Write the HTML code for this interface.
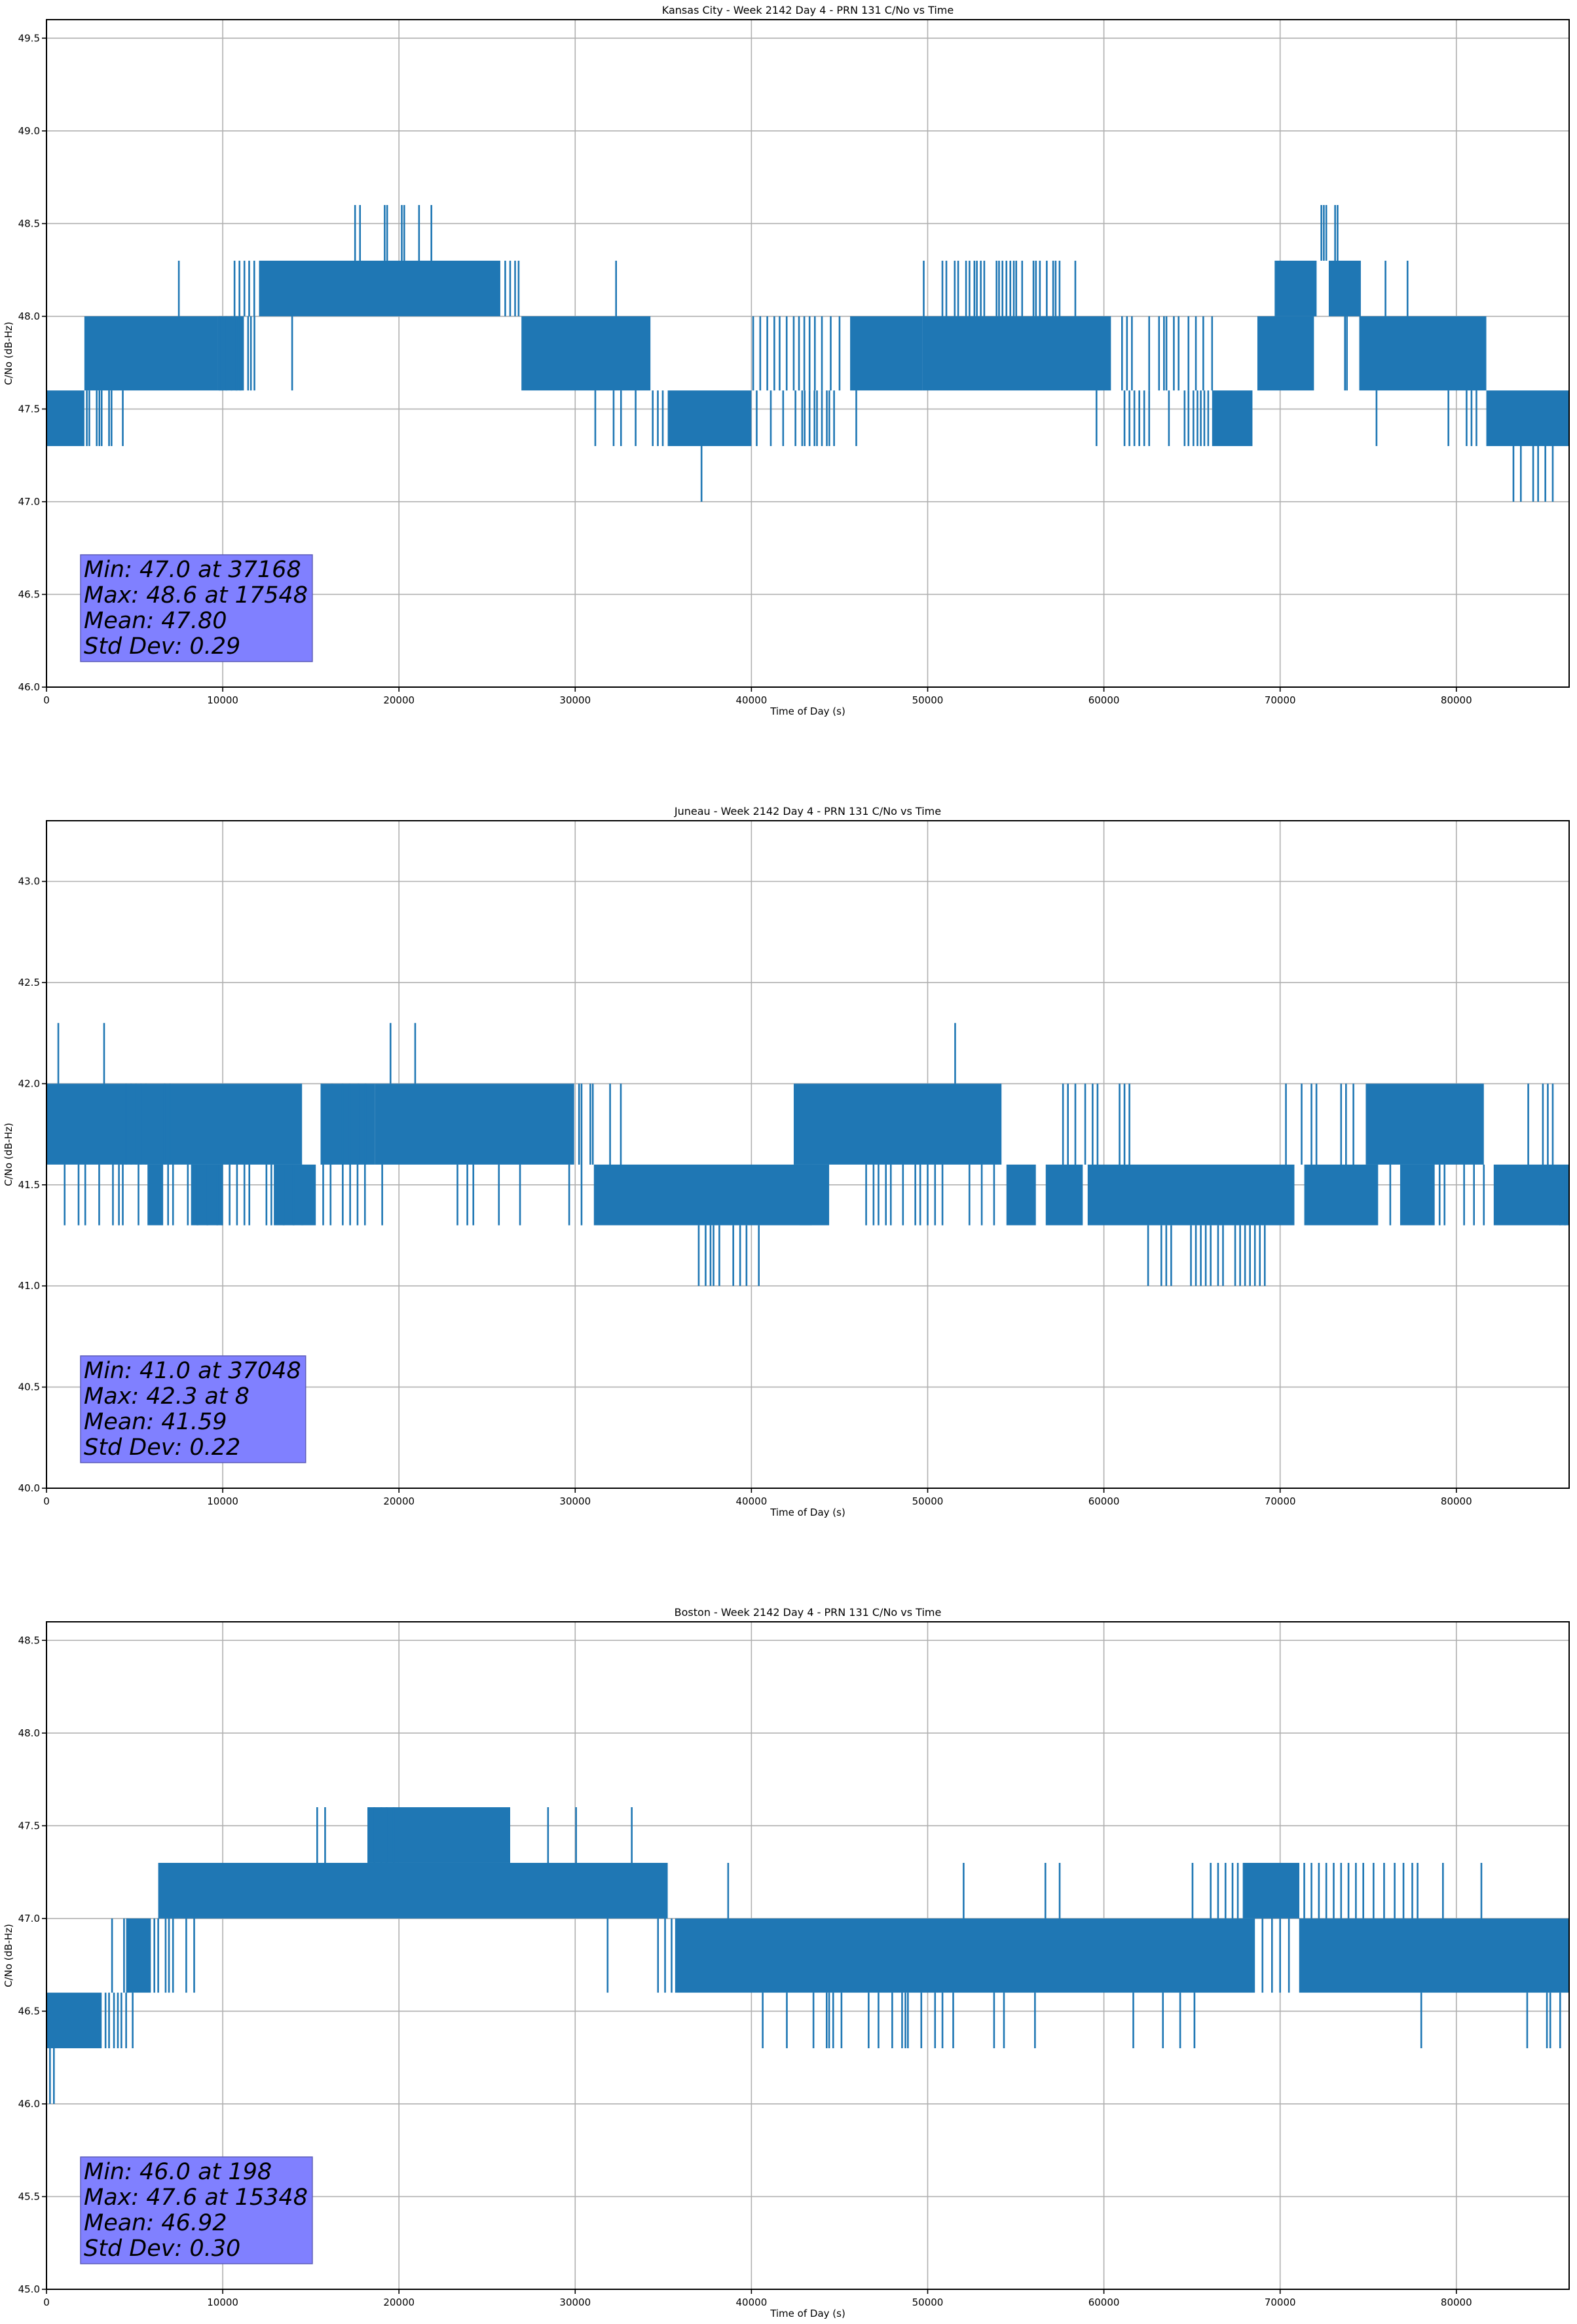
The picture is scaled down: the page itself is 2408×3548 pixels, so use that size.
<!DOCTYPE html>
<html><head><meta charset="utf-8"><style>
html,body{margin:0;padding:0;background:#fff}
svg{display:block}
text{font-family:"DejaVu Sans","Liberation Sans",sans-serif;fill:#000}
</style></head><body>
<svg id="fig" width="2408" height="3548" viewBox="0 0 2408 3548" xmlns="http://www.w3.org/2000/svg"></svg>
<script>
// ---------- Kansas City ----------
const kcTitle = "Kansas City - Week 2142 Day 4 - PRN 131 C/No vs Time";
const kcYRange = [46.0, 49.6];
const kcYTicks = [46.0,46.5,47.0,47.5,48.0,48.5,49.0,49.5];
const kcBandT0 = [0,2150,9700,12060,26950,35250,45600,49700,66140,68710,69690,72760,74490,81700];
const kcBandT1 = [2150,9700,11200,25750,34270,40000,49700,60400,68430,71920,72070,74580,81700,86400];
const kcBandLo = [47.3,47.6,47.6,48.0,47.6,47.3,47.6,47.6,47.3,47.6,48.0,48.0,47.6,47.3];
const kcBandHi = [47.6,48.0,48.0,48.3,48.0,47.6,48.0,48.0,47.6,48.0,48.3,48.3,48.0,47.6];
const kcLineT = [2290,2430,2850,3000,3130,3550,3690,4330,31140,32180,32600,33430,34400,34690,34970,40300,41100,41800,42500,42880,43020,43300,43580,43720,44000,44280,44420,44690,45950,59580,61170,61450,61730,62010,62290,62570,63690,64580,64800,65080,65310,65500,65700,65920,75470,79550,80580,80860,81140,
 9830,9950,10200,10500,10780,11000,11440,11600,11800,40100,40500,40900,41300,41600,42000,42400,42700,43000,43300,43600,44000,44500,45000,61030,61310,61590,62570,63130,63410,63550,63970,64240,64800,65220,65640,66140,73680,73790,13940,
 7510,10670,10950,11230,11500,11790,26030,26310,26590,26790,32320,49777,50838,51061,51536,51732,52179,52374,52653,52793,53016,53212,53910,54050,54245,54469,54692,54888,55027,55362,56005,56144,56368,56759,57122,57262,57485,58379,75980,77230,
 17510,17790,19190,19330,20160,20300,21140,21840,72340,72480,72620,73120,73260,
 37168,83240,83660,84360,84640,85050,85470];
const kcLineLo = [47.3,47.3,47.3,47.3,47.3,47.3,47.3,47.3,47.3,47.3,47.3,47.3,47.3,47.3,47.3,47.3,47.3,47.3,47.3,47.3,47.3,47.3,47.3,47.3,47.3,47.3,47.3,47.3,47.3,47.3,47.3,47.3,47.3,47.3,47.3,47.3,47.3,47.3,47.3,47.3,47.3,47.3,47.3,47.3,47.3,47.3,47.3,47.3,47.3,
 47.6,47.6,47.6,47.6,47.6,47.6,47.6,47.6,47.6,47.6,47.6,47.6,47.6,47.6,47.6,47.6,47.6,47.6,47.6,47.6,47.6,47.6,47.6,47.6,47.6,47.6,47.6,47.6,47.6,47.6,47.6,47.6,47.6,47.6,47.6,47.6,47.6,47.6,47.6,
 48.0,48.0,48.0,48.0,48.0,48.0,48.0,48.0,48.0,48.0,48.0,48.0,48.0,48.0,48.0,48.0,48.0,48.0,48.0,48.0,48.0,48.0,48.0,48.0,48.0,48.0,48.0,48.0,48.0,48.0,48.0,48.0,48.0,48.0,48.0,48.0,48.0,48.0,48.0,48.0,
 48.3,48.3,48.3,48.3,48.3,48.3,48.3,48.3,48.3,48.3,48.3,48.3,48.3,
 47.0,47.0,47.0,47.0,47.0,47.0,47.0];
const kcLineHi = kcLineLo.map(v => v===47.3?47.6:v===47.6?48.0:v===48.0?48.3:v===48.3?48.6:47.3);
const kcStats = ["Min: 47.0 at 37168","Max: 48.6 at 17548","Mean: 47.80","Std Dev: 0.29"];

// ---------- Juneau ----------
const juTitle = "Juneau - Week 2142 Day 4 - PRN 131 C/No vs Time";
const juYRange = [40.0, 43.3];
const juYTicks = [40.0,40.5,41.0,41.5,42.0,42.5,43.0];
const juBandT0 = [0,5730,8200,12900,14440,15600,18630,31060,42400,42740,54470,56700,59080,71370,76810,82120,74860];
const juBandT1 = [14500,6620,10000,14580,15280,18630,29940,43430,54190,44410,56140,58800,70810,75560,78770,86400,81560];
const juBandLo = [41.6,41.3,41.3,41.3,41.3,41.6,41.6,41.3,41.6,41.3,41.3,41.3,41.3,41.3,41.3,41.3,41.6];
const juBandHi = [42.0,41.6,41.6,41.6,41.6,42.0,42.0,41.6,42.0,41.6,41.6,41.6,41.6,41.6,41.6,41.6,42.0];
const juLineT = [670,3270,19520,20920,51560,
 37010,37400,37680,37850,38180,38970,39360,39720,40420,62510,63260,63540,63820,64940,65220,65500,65780,66060,66480,66760,67450,67730,68010,68290,68570,68850,69130,
 4520,4800,5080,5360,5640,6700,7000,15600,16200,16800,17200,17700,18100,30220,30360,30860,31000,31980,32590,57680,57960,58380,58940,59360,59640,60890,61170,61450,70330,71220,71780,72060,73460,73740,74160,84080,84910,85190,85470,85890,86170,
 1030,1820,2200,2990,3770,4110,4330,5220,6900,7180,8020,8570,9130,9690,9970,10390,10810,11230,11510,12480,12760,13460,14020,15700,16120,16810,17230,17650,18070,19050,23320,23880,24220,25670,26870,29660,30360,46510,46930,47210,47630,47910,48600,49300,49580,50000,50420,50840,52370,53070,53770,76250,79050,79330,80440,81000,81560];
const juLineLo = juLineT.map((t,i) => i<5?42.0:i<32?41.0:i<71?41.6:41.3);
const juLineHi = juLineLo.map(v => v===42.0?42.3:v===41.0?41.3:v===41.6?42.0:41.6);
const juStats = ["Min: 41.0 at 37048","Max: 42.3 at 8","Mean: 41.59","Std Dev: 0.22"];

// ---------- Boston ----------
const boTitle = "Boston - Week 2142 Day 4 - PRN 131 C/No vs Time";
const boYRange = [45.0, 48.6];
const boYTicks = [45.0,45.5,46.0,46.5,47.0,47.5,48.0,48.5];
const boBandT0 = [0,4520,6340,18210,35670,71080,67880];
const boBandT1 = [3130,5920,35250,26310,68570,86400,71090];
const boBandLo = [46.3,46.6,47.0,47.3,46.6,46.6,47.0];
const boBandHi = [46.6,47.0,47.3,47.6,47.0,47.0,47.3];
const boLineT = [198,420,
 3350,3550,3830,4050,4250,4520,4890,40640,42010,43520,44270,44410,44640,45110,46650,47210,47990,48550,48740,48880,49640,50420,50840,51450,53770,54330,56090,61670,63350,64330,65140,78010,84020,85140,85330,85890,
 3720,4400,4600,6120,6340,6760,6950,7180,7930,8380,31840,34700,35100,35470,69000,69540,70000,70500,
 66060,66480,66900,67300,67600,71370,71780,72200,72620,73040,73460,73880,74300,74720,75300,75900,76500,77000,77500,77800,79240,81420,52040,56680,57490,65030,38680,
 15360,15810,18300,18600,19000,19300,19700,28460,30050,33210];
const boLineLo = boLineT.map((t,i) => i<2?46.0:i<38?46.3:i<56?46.6:i<83?47.0:47.3);
const boLineHi = boLineLo.map(v => +(v+(v===46.6?0.4:0.3)).toFixed(1));
const boStats = ["Min: 46.0 at 198","Max: 47.6 at 15348","Mean: 46.92","Std Dev: 0.30"];

const xTicks = [0,10000,20000,30000,40000,50000,60000,70000,80000];
const xMax = 86400;

const NS = "http://www.w3.org/2000/svg";
const fig = document.getElementById('fig');
function mk(tag, attrs, parent){ const e=document.createElementNS(NS,tag); for(const k in attrs) e.setAttribute(k,attrs[k]); (parent||fig).appendChild(e); return e; }

const L=71, R=2396, H=1019, BLUE="#1f77b4";
function drawChart(key, top, title, yr, yt, b0,b1,blo,bhi, lt,llo,lhi, stats){
  const g = mk('g',{});
  
  
  const bot = top+H;
  const X = t => L + t/xMax*(R-L);
  const Y = v => bot - (v-yr[0])/(yr[1]-yr[0])*H;
  xTicks.forEach(t=>{ const l=mk('line',{x1:X(t),x2:X(t),y1:top,y2:bot,stroke:"#b0b0b0","stroke-width":1.6},g);
      });
  yt.forEach(v=>{ const l=mk('line',{x1:L,x2:R,y1:Y(v),y2:Y(v),stroke:"#b0b0b0","stroke-width":1.6},g);
      });
  for(let i=0;i<b0.length;i++){
    const r=mk('rect',{x:X(b0[i]),y:Y(bhi[i]),width:Math.max(1,X(b1[i])-X(b0[i])),height:Y(blo[i])-Y(bhi[i]),fill:BLUE},g);
     
  }
  for(let i=0;i<lt.length;i++){
    const l=mk('line',{x1:X(lt[i]),x2:X(lt[i]),y1:Y(llo[i]),y2:Y(lhi[i]),stroke:BLUE,"stroke-width":2.6},g);
     
  }
  const fr=mk('rect',{x:L,y:top,width:R-L,height:H,fill:"none",stroke:"#000","stroke-width":2},g);
   
  xTicks.forEach(t=>{
    mk('line',{x1:X(t),x2:X(t),y1:bot,y2:bot+7,stroke:"#000","stroke-width":1.6},g);
    const tx=mk('text',{x:X(t),y:bot+25,"font-size":15,"text-anchor":"middle"},g); tx.textContent=t;
     
  });
  yt.forEach(v=>{
    mk('line',{x1:L-7,x2:L,y1:Y(v),y2:Y(v),stroke:"#000","stroke-width":1.6},g);
    const tx=mk('text',{x:L-10,y:Y(v)+5,"font-size":15,"text-anchor":"end"},g); tx.textContent=v.toFixed(1);
     
  });
  const ti=mk('text',{x:(L+R)/2,y:top-9,"font-size":16,"text-anchor":"middle"},g); ti.textContent=title;
   
  const xl=mk('text',{x:(L+R)/2,y:bot+42,"font-size":15,"text-anchor":"middle"},g); xl.textContent="Time of Day (s)";
   
  const yl=mk('text',{x:0,y:0,"font-size":15,"text-anchor":"middle",transform:`translate(18,${top+H/2}) rotate(-90)`},g); yl.textContent="C/No (dB-Hz)";
   
  const bx=mk('rect',{x:123,y:top+817,width:350,height:163,fill:"#8080ff",stroke:"#5c5cb8","stroke-width":1.5},g);
   
  let maxw=0;
  stats.forEach((s,i)=>{
    const tx=mk('text',{x:128,y:top+851+i*39,"font-size":35,"font-style":"italic"},g); tx.textContent=s;
     
    maxw=Math.max(maxw,tx.getComputedTextLength());
  });
  if(maxw>0) bx.setAttribute('width', maxw+12);
}
drawChart('kansas-city',30,kcTitle,kcYRange,kcYTicks,kcBandT0,kcBandT1,kcBandLo,kcBandHi,kcLineT,kcLineLo,kcLineHi,kcStats);
drawChart('juneau',1253,juTitle,juYRange,juYTicks,juBandT0,juBandT1,juBandLo,juBandHi,juLineT,juLineLo,juLineHi,juStats);
drawChart('boston',2476,boTitle,boYRange,boYTicks,boBandT0,boBandT1,boBandLo,boBandHi,boLineT,boLineLo,boLineHi,boStats);
</script>
</body></html>
